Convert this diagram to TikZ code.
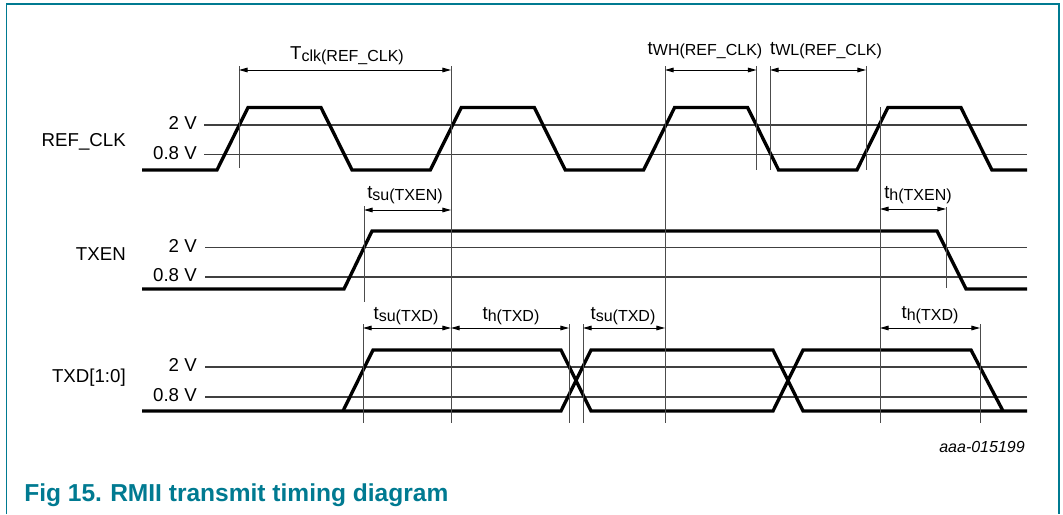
\documentclass[tikz,border=0pt]{standalone}
\usepackage{fontspec}
\setmainfont{Liberation Sans}
\usetikzlibrary{arrows.meta}
\definecolor{figteal}{RGB}{0,122,145}
\newcommand{\tparam}[2]{#1\raisebox{-1.5pt}{\fontsize{12}{12}\selectfont #2}}

\begin{document}
\begin{tikzpicture}[x=0.75pt, y=-0.75pt,
	wave/.style={line width=2.5pt, line join=miter},
	level/.style={line width=0.8pt, black!75},
	marker/.style={line width=0.75pt, black!70},
	dim/.style={line width=0.75pt, {Triangle[length=6.5pt,width=3.5pt]}-{Triangle[length=6.5pt,width=3.5pt]}},
	lbl/.style={font=\fontsize{14}{16}\selectfont, inner sep=0pt},
	caption/.style={font=\fontsize{18.4}{22}\selectfont\bfseries, text=figteal, inner sep=0pt}]
	\useasboundingbox (0,0) rectangle (1063,514);
	\draw[figteal, line width=1.2pt] (6.5,514) |- (1059,4) -- (1059,514);

	% signal names and levels
	\node[lbl, anchor=base east] (refclk) at (126,146) {REF\_CLK};
	\node[lbl, anchor=base east] (refhi) at (197,129.5) {2 V};
	\node[lbl, anchor=base east] (reflo) at (197,159) {0.8 V};
	\node[lbl, anchor=base east] (txen) at (126,260) {TXEN};
	\node[lbl, anchor=base east] (txenhi) at (197,252) {2 V};
	\node[lbl, anchor=base east] (txenlo) at (197,281.5) {0.8 V};
	\node[lbl, anchor=base east] (txd) at (126,382) {TXD[1:0]};
	\node[lbl, anchor=base east] (txdhi) at (197,371.5) {2 V};
	\node[lbl, anchor=base east] (txdlo) at (197,401.5) {0.8 V};

	\draw[level] (204,125) -- (1027,125);
	\draw[level] (204,154.5) -- (1027,154.5);
	\draw[level] (205,247.5) -- (1027,247.5);
	\draw[level] (205,277) -- (1027,277);
	\draw[level] (205,367) -- (1027,367);
	\draw[level] (205,397) -- (1027,397);

	% waveforms
	\draw[wave] (142,170) -- (217,170) -- (248,107.5) -- (321,107.5) -- (352,170)
		-- (430.3,170) -- (461.3,107.5) -- (534.3,107.5) -- (565.3,170)
		-- (643.6,170) -- (674.6,107.5) -- (747.6,107.5) -- (778.6,170)
		-- (856.9,170) -- (887.9,107.5) -- (960.9,107.5) -- (991.9,170) -- (1027,170);
	\draw[wave] (142,289) -- (344,289) -- (372,231) -- (937,231) -- (966,289) -- (1027,289);
	\draw[wave] (142,411) -- (561,411) -- (591,350) -- (773,350) -- (803,411) -- (1027,411);
	\draw[wave] (343,411) -- (373,350) -- (561,350) -- (591,411) -- (773,411) -- (803,350)
		-- (971,350) -- (1003,411);

	% reference lines
	\draw[marker] (239,66) -- (239,168);
	\draw[marker] (451,66) -- (451,423);
	\draw[marker] (665,66) -- (665,423);
	\draw[marker] (756.5,66) -- (756.5,170);
	\draw[marker] (770,66) -- (770,170);
	\draw[marker] (866,66) -- (866,170);
	\draw[marker] (880,107) -- (880,423);
	\draw[marker] (364,206) -- (364,302);
	\draw[marker] (946,207) -- (946,288);
	\draw[marker] (363,324) -- (363,423);
	\draw[marker] (569,324) -- (569,423);
	\draw[marker] (583,324) -- (583,423);
	\draw[marker] (980,324) -- (980,423);

	% timing arrows
	\coordinate (clkA) at (239,70);
	\coordinate (clkB) at (451,70);
	\coordinate (whA) at (665,70);
	\coordinate (whB) at (756.5,70);
	\coordinate (wlA) at (770,70);
	\coordinate (wlB) at (866,70);
	\coordinate (suenA) at (364,210);
	\coordinate (suenB) at (451,210);
	\coordinate (henA) at (880,209);
	\coordinate (henB) at (946,209);
	\coordinate (sudA) at (363,328);
	\coordinate (sudB) at (451,328);
	\coordinate (hdA) at (451,328);
	\coordinate (hdB) at (569,328);
	\coordinate (sudC) at (583,328);
	\coordinate (sudD) at (665,328);
	\coordinate (hdC) at (880,328);
	\coordinate (hdD) at (980,328);

	\draw[dim] (clkA) -- (clkB);
	\draw[dim] (whA) -- (whB);
	\draw[dim] (wlA) -- (wlB);
	\draw[dim] (suenA) -- (suenB);
	\draw[dim] (henA) -- (henB);
	\draw[dim] (sudA) -- (sudB);
	\draw[dim] (hdA) -- (hdB);
	\draw[dim] (sudC) -- (sudD);
	\draw[dim] (hdC) -- (hdD);

	\node[lbl, anchor=base] (tclk) at (347,59) {\tparam{T}{clk(REF\_CLK)}};
	\node[lbl, anchor=base] (twh) at (705,54) {\tparam{t}{WH(REF\_CLK)}};
	\node[lbl, anchor=base] (twl) at (826,54) {\tparam{t}{WL(REF\_CLK)}};
	\node[lbl, anchor=base] (tsuen) at (405,198) {\tparam{t}{su(TXEN)}};
	\node[lbl, anchor=base] (then) at (918,198) {\tparam{t}{h(TXEN)}};
	\node[lbl, anchor=base] (tsud) at (406,319) {\tparam{t}{su(TXD)}};
	\node[lbl, anchor=base] (thd) at (511,319) {\tparam{t}{h(TXD)}};
	\node[lbl, anchor=base] (tsudb) at (623,319) {\tparam{t}{su(TXD)}};
	\node[lbl, anchor=base] (thdb) at (930,318) {\tparam{t}{h(TXD)}};

	\node[font=\fontsize{12}{14}\selectfont\itshape, inner sep=0pt, anchor=base east] (docid) at (1025,452) {aaa-015199};
	\node[caption, anchor=base west] (fignum) at (24,501) {Fig 15.};
	\node[caption, anchor=base west] (figtitle) at (110,501) {RMII transmit timing diagram};
\end{tikzpicture}
\end{document}
